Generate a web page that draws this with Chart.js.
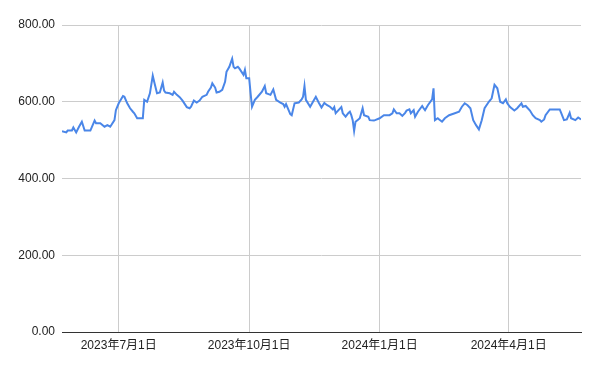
<!DOCTYPE html>
<html>
<head>
<meta charset="utf-8">
<script src="https://cdn.jsdelivr.net/npm/chart.js@4/dist/chart.umd.min.js"></script>
<style>
html,body{margin:0;padding:0;background:#fff;}
#wrap{width:600px;height:371px;position:relative;}
</style>
</head>
<body>
<div id="wrap"><canvas id="c" width="600" height="371"></canvas></div>
<script>
const dates = [
"2023-05-22","2023-05-25","2023-05-26","2023-05-29","2023-05-30","2023-06-01","2023-06-03","2023-06-05","2023-06-07","2023-06-11",
"2023-06-14","2023-06-15","2023-06-18","2023-06-21","2023-06-23","2023-06-25","2023-06-28","2023-06-29","2023-07-01","2023-07-04",
"2023-07-05","2023-07-07","2023-07-09","2023-07-11","2023-07-12","2023-07-14","2023-07-18","2023-07-19","2023-07-21","2023-07-23",
"2023-07-25","2023-07-26","2023-07-28","2023-07-30","2023-08-01","2023-08-02","2023-08-03","2023-08-06","2023-08-08","2023-08-09",
"2023-08-11","2023-08-13","2023-08-15","2023-08-18","2023-08-20","2023-08-21","2023-08-23","2023-08-25","2023-08-27","2023-08-29",
"2023-09-01","2023-09-02","2023-09-04","2023-09-05","2023-09-07","2023-09-08","2023-09-10","2023-09-12","2023-09-14","2023-09-15",
"2023-09-17","2023-09-19","2023-09-20","2023-09-21","2023-09-23","2023-09-24","2023-09-27","2023-09-28","2023-09-29","2023-10-01",
"2023-10-02","2023-10-03","2023-10-05","2023-10-07","2023-10-10","2023-10-12","2023-10-13","2023-10-16","2023-10-18","2023-10-20",
"2023-10-23","2023-10-25","2023-10-26","2023-10-27","2023-10-30","2023-10-31","2023-11-02","2023-11-05","2023-11-07","2023-11-08",
"2023-11-09","2023-11-10","2023-11-13","2023-11-15","2023-11-17","2023-11-19","2023-11-21","2023-11-23","2023-11-25","2023-11-27",
"2023-11-29","2023-11-30","2023-12-01","2023-12-03","2023-12-05","2023-12-06","2023-12-08","2023-12-10","2023-12-11","2023-12-12",
"2023-12-13","2023-12-14","2023-12-15","2023-12-17","2023-12-18","2023-12-20","2023-12-21","2023-12-24","2023-12-25","2023-12-28",
"2024-01-01","2024-01-04","2024-01-08","2024-01-10","2024-01-11","2024-01-13","2024-01-15","2024-01-17","2024-01-19","2024-01-20",
"2024-01-22","2024-01-23","2024-01-25","2024-01-26","2024-01-28","2024-01-31","2024-02-01","2024-02-02","2024-02-04","2024-02-07",
"2024-02-08","2024-02-09","2024-02-11","2024-02-12","2024-02-14","2024-02-16","2024-02-19","2024-02-23","2024-02-26","2024-02-28",
"2024-03-01","2024-03-03","2024-03-05","2024-03-07","2024-03-09","2024-03-11","2024-03-13","2024-03-15","2024-03-18","2024-03-20",
"2024-03-22","2024-03-24","2024-03-25","2024-03-26","2024-03-28","2024-03-30","2024-03-31","2024-04-02","2024-04-05","2024-04-07",
"2024-04-10","2024-04-11","2024-04-13","2024-04-16","2024-04-18","2024-04-20","2024-04-23","2024-04-24","2024-04-26","2024-04-27",
"2024-04-30","2024-05-07","2024-05-08","2024-05-10","2024-05-12","2024-05-14","2024-05-15","2024-05-18","2024-05-20","2024-05-22"
];
const prices = [
523,520,525,525,533,520,535,548,525,525,
551,544,544,535,539,535,552,578,596,615,
613,596,583,574,570,557,557,605,600,622,
668,652,622,624,650,629,624,622,618,626,
618,612,603,586,583,587,603,598,603,613,
618,626,637,648,637,624,626,631,652,678,
691,712,691,687,691,687,670,683,661,661,
622,587,605,613,626,641,622,618,632,605,
598,594,587,594,568,565,596,598,606,613,
641,605,587,600,613,598,585,597,591,587,
580,586,570,578,586,570,561,571,574,565,
552,524,548,554,557,583,565,561,552,551,
557,565,565,570,580,570,570,563,571,577,
580,570,578,561,574,589,583,578,591,606,
635,552,557,554,548,557,565,570,574,587,
596,591,583,552,539,528,552,583,600,609,
644,635,618,600,596,606,596,586,577,583,
596,587,589,577,565,557,552,548,554,565,
580,580,571,552,554,571,557,552,559,554
];
const tickDates = ["2023-07-01","2023-10-01","2024-01-01","2024-04-01"];
const yTicks = [0,200,400,600,800];

const DAY = 86400000;
function toDay(s){const p=s.split('-').map(Number);return Date.UTC(p[0],p[1]-1,p[2])/DAY;}
function fmt(d){const dt=new Date(d*DAY);return dt.getUTCFullYear()+'年'+(dt.getUTCMonth()+1)+'月'+dt.getUTCDate()+'日';}
const pts = dates.map((d,i)=>({x:toDay(d),y:prices[i]}));
const FONT = "'Liberation Sans', Arial, 'Noto Sans CJK JP', sans-serif";

new Chart(document.getElementById('c'),{
  type:'line',
  data:{datasets:[{data:pts,borderColor:'#4a86e8',borderWidth:2,pointRadius:0,tension:0,fill:false}]},
  options:{
    responsive:false,animation:false,
    layout:{padding:{top:25,right:19,left:0,bottom:0}},
    plugins:{legend:{display:false},tooltip:{enabled:false}},
    scales:{
      x:{type:'linear',min:pts[0].x,max:pts[pts.length-1].x,
        afterBuildTicks:(s)=>{s.ticks=tickDates.map(d=>({value:toDay(d)}));},
        afterFit:(s)=>{s.height=39;},
        ticks:{callback:(v)=>fmt(v),font:{family:FONT,size:12},color:'#222',padding:6,maxRotation:0,autoSkip:false},
        grid:{color:'#cccccc',drawTicks:false},
        border:{display:true,color:'#333333',width:1}
      },
      y:{min:0,max:800,
        afterBuildTicks:(s)=>{s.ticks=yTicks.map(v=>({value:v}));},
        afterFit:(s)=>{s.width=62;},
        ticks:{callback:(v)=>Number(v).toFixed(2),font:{family:FONT,size:12},color:'#222',padding:7},
        grid:{color:'#cccccc',drawTicks:false},
        border:{display:false}
      }
    }
  }
});
</script>
</body>
</html>
